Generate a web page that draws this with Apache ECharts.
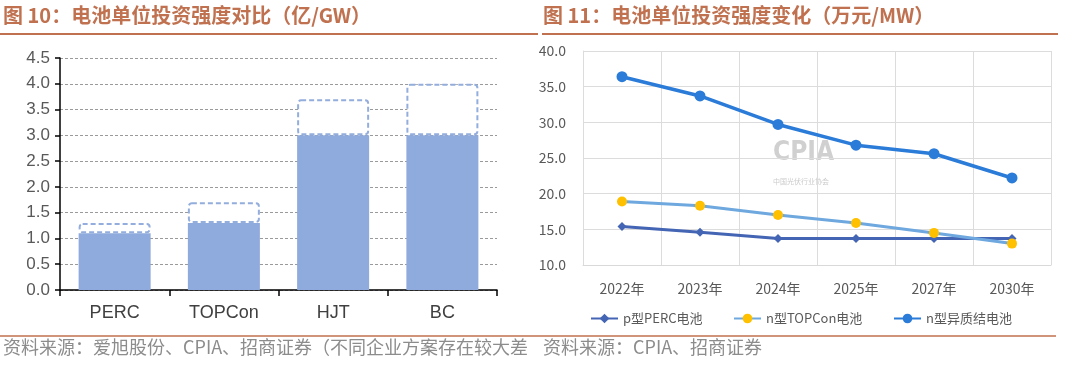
<!DOCTYPE html>
<html>
<head>
<meta charset="utf-8">
<script src="https://cdn.jsdelivr.net/npm/echarts@6/dist/echarts.min.js"></script>
<style>
  html, body { margin: 0; padding: 0; background: #fff; }
  #main { width: 1080px; height: 376px; }
</style>
</head>
<body>
<div id="main"></div>
<script>
// 图10 数据
var cellTypes = ['PERC', 'TOPCon', 'HJT', 'BC'];
var investLow = [1.1, 1.3, 3.0, 3.0];
var investHigh = [1.3, 1.7, 3.7, 4.0];

// 图11 数据
var years = ['2022年', '2023年', '2024年', '2025年', '2027年', '2030年'];
var seriesNames = ['p型PERC电池', 'n型TOPCon电池', 'n型异质结电池'];
var percCost = [15.4, 14.6, 13.7, 13.7, 13.7, 13.7];
var topconCost = [18.9, 18.3, 17.0, 15.9, 14.5, 13.0];
var hjtCost = [36.4, 33.7, 29.7, 26.8, 25.6, 22.2];

var titleColor = '#c0714f';
var cjk = '"Noto Sans CJK SC", sans-serif';

// 区间部分 = 上限 - 下限
var investRange = investHigh.map(function (v, i) {
  return +(v - investLow[i]).toFixed(2);
});

var chart = echarts.init(document.getElementById('main'), null, { renderer: 'canvas' });

// 图例逐项摆放，位置对照原图
var legendLeft = [590, 733, 893];
var legends = seriesNames.map(function (name, i) {
  return {
    data: [name],
    left: legendLeft[i],
    top: 312,
    padding: 0,
    itemWidth: 27,
    itemHeight: 12,
    textStyle: { color: '#595959', fontSize: 13, fontFamily: cjk }
  };
});

var option = {
  animation: false,
  backgroundColor: '#fff',
  grid: [
    { left: 60, right: 583, top: 58, bottom: 86 },
    { left: 583, right: 29, top: 51, bottom: 111 }
  ],
  xAxis: [
    {
      gridIndex: 0,
      type: 'category',
      data: cellTypes,
      axisLine: { lineStyle: { color: '#000', width: 1.5 } },
      axisTick: { show: true, length: 6, lineStyle: { color: '#000', width: 1.5 } },
      axisLabel: { color: '#404040', fontSize: 18, fontFamily: '"Liberation Sans", Arial', margin: 14 }
    },
    {
      gridIndex: 1,
      type: 'category',
      data: years,
      axisLine: { lineStyle: { color: '#d9d9d9' } },
      axisTick: { show: false },
      splitLine: { show: true, lineStyle: { color: '#dcdcdc', width: 1 } },
      axisLabel: { color: '#595959', fontSize: 14, fontFamily: cjk, margin: 17 }
    }
  ],
  yAxis: [
    {
      gridIndex: 0,
      type: 'value',
      min: 0,
      max: 4.5,
      interval: 0.5,
      axisLine: { show: true, lineStyle: { color: '#000', width: 1.5 } },
      axisTick: { show: true, length: 5, lineStyle: { color: '#000', width: 1.5 } },
      splitLine: { lineStyle: { color: '#9a9a9a', type: [3, 2], width: 1 } },
      axisLabel: {
        color: '#595959', fontSize: 17, fontFamily: '"Liberation Sans", Arial', margin: 10,
        formatter: function (v) { return v.toFixed(1); }
      }
    },
    {
      gridIndex: 1,
      type: 'value',
      min: 10,
      max: 40,
      interval: 5,
      axisLine: { show: true, lineStyle: { color: '#dcdcdc' } },
      axisTick: { show: false },
      splitLine: { lineStyle: { color: '#dcdcdc', width: 1 } },
      axisLabel: {
        color: '#595959', fontSize: 14, fontFamily: cjk, margin: 17,
        formatter: function (v) { return v.toFixed(1); }
      }
    }
  ],
  legend: legends,
  series: [
    {
      name: '下限',
      type: 'bar',
      xAxisIndex: 0,
      yAxisIndex: 0,
      stack: 'invest',
      barWidth: 72,
      data: investLow,
      itemStyle: { color: '#8faadc' }
    },
    {
      name: '区间',
      type: 'bar',
      xAxisIndex: 0,
      yAxisIndex: 0,
      stack: 'invest',
      barWidth: 72,
      data: investRange,
      itemStyle: {
        color: '#fff',
        borderColor: '#93addd',
        borderWidth: 2,
        borderType: [5, 3],
        borderRadius: 3
      }
    },
    {
      name: seriesNames[0],
      type: 'line',
      xAxisIndex: 1,
      yAxisIndex: 1,
      data: percCost,
      symbol: 'diamond',
      symbolSize: 9,
      lineStyle: { color: '#4464b4', width: 3 },
      itemStyle: { color: '#4464b4' },
      z: 3
    },
    {
      name: seriesNames[1],
      type: 'line',
      xAxisIndex: 1,
      yAxisIndex: 1,
      data: topconCost,
      symbol: 'circle',
      symbolSize: 10,
      lineStyle: { color: '#6ea8de', width: 3 },
      itemStyle: { color: '#ffc000' },
      z: 4
    },
    {
      name: seriesNames[2],
      type: 'line',
      xAxisIndex: 1,
      yAxisIndex: 1,
      data: hjtCost,
      symbol: 'circle',
      symbolSize: 11,
      lineStyle: { color: '#2b7bd8', width: 3.5 },
      itemStyle: { color: '#2b7bd8' },
      z: 5
    }
  ],
  graphic: [
    // 标题
    {
      type: 'text', left: 3, top: 5,
      style: { text: '图 10：电池单位投资强度对比（亿/GW）', fill: titleColor, font: 'bold 20px ' + cjk }
    },
    {
      type: 'text', left: 543, top: 5,
      style: { text: '图 11：电池单位投资强度变化（万元/MW）', fill: titleColor, font: 'bold 20px ' + cjk }
    },
    { type: 'line', shape: { x1: 0, y1: 34, x2: 538, y2: 34 }, style: { stroke: titleColor, lineWidth: 2 } },
    { type: 'line', shape: { x1: 542, y1: 34, x2: 1058, y2: 34 }, style: { stroke: titleColor, lineWidth: 2 } },
    // 底部
    { type: 'line', shape: { x1: 0, y1: 336, x2: 1056, y2: 336 }, style: { stroke: titleColor, lineWidth: 1.5 } },
    {
      type: 'text', left: 3, top: 338,
      style: { text: '资料来源：爱旭股份、CPIA、招商证券（不同企业方案存在较大差', fill: '#8c8c8c', font: '18px ' + cjk }
    },
    {
      type: 'text', left: 543, top: 338,
      style: { text: '资料来源：CPIA、招商证券', fill: '#8c8c8c', font: '18px ' + cjk }
    },
    // 水印
    {
      type: 'text', left: 773, top: 140,
      style: { text: 'CPIA', fill: 'rgba(150,150,150,0.45)', font: 'bold 26px "DejaVu Sans Condensed", sans-serif' }
    },
    {
      type: 'text', left: 773, top: 178,
      style: { text: '中国光伏行业协会', fill: 'rgba(150,150,150,0.5)', font: '7px ' + cjk }
    }
  ]
};

chart.setOption(option);
</script>
</body>
</html>
